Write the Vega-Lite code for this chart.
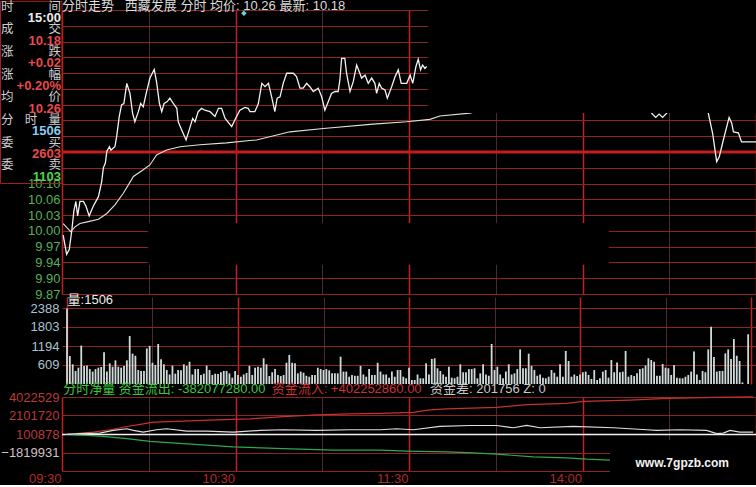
{
"$schema": "https://vega.github.io/schema/vega-lite/v6.json",
"background": "#000000",
"padding": {"left": 0, "top": 0, "right": 0, "bottom": 0},
"config": {
 "view": {"stroke": null},
 "axis": {"domain": false, "ticks": false, "labelFont": "Liberation Sans", "labelFontSize": 13, "labelFlush": false, "labelOverlap": false}
},
"datasets": {
 "price": [
  {"seg":"a","t":0.4,"p":9.99},{"seg":"a","t":1.6,"p":9.95},{"seg":"a","t":2.5,"p":9.96},{"seg":"a","t":3.4,"p":10.0},{"seg":"a","t":4.1,"p":10.04},{"seg":"a","t":4.8,"p":10.06},{"seg":"a","t":5.4,"p":10.03},{"seg":"a","t":6.2,"p":10.06},{"seg":"a","t":7.4,"p":10.06},{"seg":"a","t":8.3,"p":10.05},{"seg":"a","t":9.4,"p":10.03},{"seg":"a","t":10.8,"p":10.05},{"seg":"a","t":12.6,"p":10.07},{"seg":"a","t":13.7,"p":10.1},{"seg":"a","t":14.3,"p":10.13},{"seg":"a","t":15.0,"p":10.14},{"seg":"a","t":15.5,"p":10.164},{"seg":"a","t":16.4,"p":10.174},{"seg":"a","t":16.9,"p":10.167},{"seg":"a","t":18.3,"p":10.174},{"seg":"a","t":18.9,"p":10.195},{"seg":"a","t":19.8,"p":10.237},{"seg":"a","t":20.6,"p":10.261},{"seg":"a","t":21.4,"p":10.264},{"seg":"a","t":22.4,"p":10.306},{"seg":"a","t":23.5,"p":10.285},{"seg":"a","t":24.4,"p":10.244},{"seg":"a","t":25.2,"p":10.226},{"seg":"a","t":26.4,"p":10.247},{"seg":"a","t":27.2,"p":10.264},{"seg":"a","t":28.1,"p":10.257},{"seg":"a","t":29.0,"p":10.282},{"seg":"a","t":30.4,"p":10.317},{"seg":"a","t":31.9,"p":10.335},{"seg":"a","t":32.7,"p":10.309},{"seg":"a","t":33.7,"p":10.264},{"seg":"a","t":34.5,"p":10.247},{"seg":"a","t":35.3,"p":10.264},{"seg":"a","t":36.4,"p":10.268},{"seg":"a","t":37.3,"p":10.275},{"seg":"a","t":38.5,"p":10.264},{"seg":"a","t":39.7,"p":10.254},{"seg":"a","t":40.2,"p":10.226},{"seg":"a","t":41.4,"p":10.209},{"seg":"a","t":42.9,"p":10.188},{"seg":"a","t":44.0,"p":10.209},{"seg":"a","t":45.2,"p":10.233},{"seg":"a","t":46.0,"p":10.226},{"seg":"a","t":47.1,"p":10.247},{"seg":"a","t":48.3,"p":10.254},{"seg":"a","t":49.4,"p":10.25},{"seg":"a","t":51.2,"p":10.247},{"seg":"a","t":52.9,"p":10.237},{"seg":"a","t":54.1,"p":10.254},{"seg":"a","t":55.2,"p":10.254},{"seg":"a","t":56.4,"p":10.233},{"seg":"a","t":58.7,"p":10.216},{"seg":"a","t":59.8,"p":10.23},{"seg":"a","t":61.5,"p":10.25},{"seg":"a","t":63.3,"p":10.256},{"seg":"a","t":64.4,"p":10.254},{"seg":"a","t":65.0,"p":10.247},{"seg":"a","t":66.7,"p":10.247},{"seg":"a","t":67.9,"p":10.264},{"seg":"a","t":69.1,"p":10.306},{"seg":"a","t":70.2,"p":10.299},{"seg":"a","t":71.4,"p":10.306},{"seg":"a","t":72.5,"p":10.278},{"seg":"a","t":73.6,"p":10.247},{"seg":"a","t":74.4,"p":10.275},{"seg":"a","t":75.4,"p":10.278},{"seg":"a","t":76.5,"p":10.306},{"seg":"a","t":77.7,"p":10.327},{"seg":"a","t":80.0,"p":10.327},{"seg":"a","t":81.1,"p":10.32},{"seg":"a","t":82.3,"p":10.296},{"seg":"a","t":83.4,"p":10.296},{"seg":"a","t":84.6,"p":10.306},{"seg":"a","t":85.7,"p":10.299},{"seg":"a","t":86.9,"p":10.289},{"seg":"a","t":88.6,"p":10.296},{"seg":"a","t":89.8,"p":10.278},{"seg":"a","t":90.9,"p":10.25},{"seg":"a","t":92.1,"p":10.268},{"seg":"a","t":93.2,"p":10.285},{"seg":"a","t":94.4,"p":10.289},{"seg":"a","t":95.5,"p":10.289},{"seg":"a","t":96.1,"p":10.313},{"seg":"a","t":96.7,"p":10.358},{"seg":"a","t":97.8,"p":10.358},{"seg":"a","t":98.4,"p":10.327},{"seg":"a","t":99.6,"p":10.289},{"seg":"a","t":100.7,"p":10.309},{"seg":"a","t":101.9,"p":10.344},{"seg":"a","t":102.8,"p":10.33},{"seg":"a","t":103.6,"p":10.317},{"seg":"a","t":104.8,"p":10.323},{"seg":"a","t":105.9,"p":10.306},{"seg":"a","t":107.1,"p":10.317},{"seg":"a","t":108.2,"p":10.306},{"seg":"a","t":108.8,"p":10.285},{"seg":"a","t":109.7,"p":10.306},{"seg":"a","t":110.5,"p":10.296},{"seg":"a","t":111.7,"p":10.292},{"seg":"a","t":112.5,"p":10.275},{"seg":"a","t":114.0,"p":10.299},{"seg":"a","t":115.2,"p":10.32},{"seg":"a","t":116.3,"p":10.334},{"seg":"a","t":117.3,"p":10.306},{"seg":"a","t":119.2,"p":10.306},{"seg":"a","t":120.4,"p":10.323},{"seg":"a","t":121.3,"p":10.306},{"seg":"a","t":122.4,"p":10.341},{"seg":"a","t":123.2,"p":10.356},{"seg":"a","t":124.0,"p":10.334},{"seg":"a","t":124.7,"p":10.344},{"seg":"a","t":125.5,"p":10.337},{"seg":"a","t":126.1,"p":10.341},
  {"seg":"b","t":203.3,"p":10.26},{"seg":"b","t":203.9,"p":10.244},{"seg":"b","t":205.3,"p":10.235},{"seg":"b","t":206.5,"p":10.242},{"seg":"b","t":207.7,"p":10.235},{"seg":"b","t":209.1,"p":10.244},{"seg":"b","t":209.6,"p":10.26},
  {"seg":"c","t":223.0,"p":10.26},{"seg":"c","t":223.5,"p":10.244},{"seg":"c","t":225.0,"p":10.202},{"seg":"c","t":226.4,"p":10.143},{"seg":"c","t":227.3,"p":10.153},{"seg":"c","t":228.7,"p":10.188},{"seg":"c","t":230.7,"p":10.235},{"seg":"c","t":231.6,"p":10.223},{"seg":"c","t":232.2,"p":10.205},{"seg":"c","t":233.9,"p":10.203},{"seg":"c","t":235.0,"p":10.184},{"seg":"c","t":240.0,"p":10.184}
 ],
 "avg": [
  {"t":0.4,"p":10.014},{"t":3.0,"p":9.997},{"t":4.5,"p":10.007},{"t":6.2,"p":10.014},{"t":9.1,"p":10.018},{"t":12.6,"p":10.023},{"t":15.5,"p":10.035},{"t":18.3,"p":10.053},{"t":21.2,"p":10.077},{"t":22.9,"p":10.094},{"t":24.7,"p":10.112},{"t":28.1,"p":10.126},{"t":30.4,"p":10.136},{"t":32.7,"p":10.157},{"t":36.2,"p":10.167},{"t":40.8,"p":10.174},{"t":47.7,"p":10.178},{"t":56.9,"p":10.182},{"t":65.0,"p":10.187},{"t":67.3,"p":10.188},{"t":78.8,"p":10.205},{"t":90.4,"p":10.212},{"t":107.6,"p":10.221},{"t":119.2,"p":10.226},{"t":127.2,"p":10.231},{"t":130.7,"p":10.238},{"t":141.1,"p":10.244},{"t":146.0,"p":10.252}
 ],
 "info": [
  {"row":0,"col":0,"txt":"时","kind":"label"},{"row":0,"col":1,"txt":"间","kind":"label"},
  {"row":1,"col":1,"txt":"15:00","kind":"time"},
  {"row":2,"col":0,"txt":"成","kind":"label"},{"row":2,"col":1,"txt":"交","kind":"label"},
  {"row":3,"col":1,"txt":"10.18","kind":"red"},
  {"row":4,"col":0,"txt":"涨","kind":"label"},{"row":4,"col":1,"txt":"跌","kind":"label"},
  {"row":5,"col":1,"txt":"+0.02","kind":"red"},
  {"row":6,"col":0,"txt":"涨","kind":"label"},{"row":6,"col":1,"txt":"幅","kind":"label"},
  {"row":7,"col":1,"txt":"+0.20%","kind":"red"},
  {"row":8,"col":0,"txt":"均","kind":"label"},{"row":8,"col":1,"txt":"价","kind":"label"},
  {"row":9,"col":1,"txt":"10.26","kind":"red"},
  {"row":10,"col":0,"txt":"分","kind":"label"},{"row":10,"col":0.5,"txt":"时","kind":"label"},{"row":10,"col":1,"txt":"量","kind":"label"},
  {"row":11,"col":1,"txt":"1506","kind":"blue"},
  {"row":12,"col":0,"txt":"委","kind":"label"},{"row":12,"col":1,"txt":"买","kind":"label"},
  {"row":13,"col":1,"txt":"2603","kind":"red"},
  {"row":14,"col":0,"txt":"委","kind":"label"},{"row":14,"col":1,"txt":"卖","kind":"label"},
  {"row":15,"col":1,"txt":"1103","kind":"green"}
 ],
 "vol": [
  {"t":0,"v":2380},{"t":1,"v":880},{"t":2,"v":620},{"t":3,"v":410},{"t":4,"v":515},{"t":5,"v":1210},{"t":6,"v":570},{"t":7,"v":580},{"t":8,"v":470},{"t":9,"v":390},
  {"t":10,"v":470},{"t":11,"v":515},{"t":12,"v":535},{"t":13,"v":1000},{"t":14,"v":390},{"t":15,"v":650},{"t":16,"v":545},{"t":17,"v":745},{"t":18,"v":545},{"t":19,"v":515},
  {"t":20,"v":570},{"t":21,"v":745},{"t":22,"v":1510},{"t":23,"v":955},{"t":24,"v":890},{"t":25,"v":440},{"t":26,"v":410},{"t":27,"v":410},{"t":28,"v":1120},{"t":29,"v":1200},
  {"t":30,"v":670},{"t":31,"v":600},{"t":32,"v":1260},{"t":33,"v":780},{"t":34,"v":620},{"t":35,"v":440},{"t":36,"v":300},{"t":37,"v":580},{"t":38,"v":325},{"t":39,"v":440},
  {"t":40,"v":430},{"t":41,"v":620},{"t":42,"v":570},{"t":43,"v":700},{"t":44,"v":300},{"t":45,"v":470},{"t":46,"v":470},{"t":47,"v":285},{"t":48,"v":325},{"t":49,"v":580},
  {"t":50,"v":440},{"t":51,"v":285},{"t":52,"v":325},{"t":53,"v":315},{"t":54,"v":370},{"t":55,"v":410},{"t":56,"v":410},{"t":57,"v":335},{"t":58,"v":200},{"t":59,"v":410},
  {"t":60,"v":285},{"t":61,"v":230},{"t":62,"v":300},{"t":63,"v":345},{"t":64,"v":570},{"t":65,"v":285},{"t":66,"v":515},{"t":67,"v":545},{"t":68,"v":515},{"t":69,"v":810},
  {"t":70,"v":620},{"t":71,"v":250},{"t":72,"v":370},{"t":73,"v":470},{"t":74,"v":285},{"t":75,"v":250},{"t":76,"v":285},{"t":77,"v":670},{"t":78,"v":915},{"t":79,"v":670},
  {"t":80,"v":650},{"t":81,"v":335},{"t":82,"v":390},{"t":83,"v":355},{"t":84,"v":260},{"t":85,"v":230},{"t":86,"v":285},{"t":87,"v":285},{"t":88,"v":515},{"t":89,"v":470},
  {"t":90,"v":440},{"t":91,"v":470},{"t":92,"v":430},{"t":93,"v":335},{"t":94,"v":335},{"t":95,"v":335},{"t":96,"v":860},{"t":97,"v":390},{"t":98,"v":390},{"t":99,"v":230},
  {"t":100,"v":285},{"t":101,"v":260},{"t":102,"v":260},{"t":103,"v":570},{"t":104,"v":300},{"t":105,"v":230},{"t":106,"v":470},{"t":107,"v":285},{"t":108,"v":285},{"t":109,"v":670},
  {"t":110,"v":390},{"t":111,"v":300},{"t":112,"v":300},{"t":113,"v":200},{"t":114,"v":390},{"t":115,"v":230},{"t":116,"v":440},{"t":117,"v":440},{"t":118,"v":230},{"t":119,"v":180},
  {"t":120,"v":515},{"t":121,"v":125},{"t":122,"v":125},{"t":123,"v":300},{"t":124,"v":180},{"t":125,"v":180},{"t":126,"v":650},{"t":127,"v":300},{"t":128,"v":790},{"t":129,"v":810},
  {"t":130,"v":495},{"t":131,"v":410},{"t":132,"v":300},{"t":133,"v":230},{"t":134,"v":545},{"t":135,"v":200},{"t":136,"v":180},{"t":137,"v":230},{"t":138,"v":620},{"t":139,"v":370},
  {"t":140,"v":370},{"t":141,"v":470},{"t":142,"v":470},{"t":143,"v":495},{"t":144,"v":180},{"t":145,"v":335},{"t":146,"v":620},{"t":147,"v":300},{"t":148,"v":260},{"t":149,"v":1260},
  {"t":150,"v":440},{"t":151,"v":545},{"t":152,"v":300},{"t":153,"v":180},{"t":154,"v":390},{"t":155,"v":620},{"t":156,"v":300},{"t":157,"v":335},{"t":158,"v":470},{"t":159,"v":1090},
  {"t":160,"v":495},{"t":161,"v":495},{"t":162,"v":955},{"t":163,"v":570},{"t":164,"v":440},{"t":165,"v":260},{"t":166,"v":300},{"t":167,"v":200},{"t":168,"v":180},{"t":169,"v":230},
  {"t":170,"v":440},{"t":171,"v":355},{"t":172,"v":230},{"t":173,"v":620},{"t":174,"v":230},{"t":175,"v":1040},{"t":176,"v":725},{"t":177,"v":230},{"t":178,"v":300},{"t":179,"v":250},
  {"t":180,"v":300},{"t":181,"v":370},{"t":182,"v":390},{"t":183,"v":285},{"t":184,"v":160},{"t":185,"v":440},{"t":186,"v":125},{"t":187,"v":180},{"t":188,"v":390},{"t":189,"v":440},
  {"t":190,"v":200},{"t":191,"v":755},{"t":192,"v":370},{"t":193,"v":680},{"t":194,"v":370},{"t":195,"v":390},{"t":196,"v":1040},{"t":197,"v":230},{"t":198,"v":285},{"t":199,"v":250},
  {"t":200,"v":335},{"t":201,"v":470},{"t":202,"v":495},{"t":203,"v":580},{"t":204,"v":810},{"t":205,"v":755},{"t":206,"v":700},{"t":207,"v":260},{"t":208,"v":260},{"t":209,"v":630},
  {"t":210,"v":515},{"t":211,"v":495},{"t":212,"v":285},{"t":213,"v":600},{"t":214,"v":200},{"t":215,"v":180},{"t":216,"v":180},{"t":217,"v":230},{"t":218,"v":285},{"t":219,"v":390},
  {"t":220,"v":1020},{"t":221,"v":300},{"t":222,"v":125},{"t":223,"v":410},{"t":224,"v":370},{"t":225,"v":1090},{"t":226,"v":1805},{"t":227,"v":850},{"t":228,"v":390},{"t":229,"v":410},
  {"t":230,"v":410},{"t":231,"v":965},{"t":232,"v":1090},{"t":233,"v":790},{"t":234,"v":1420},{"t":235,"v":890},{"t":236,"v":725},{"t":237,"v":50},{"t":239,"v":1565}
 ],
 "flow": [
  {"s":"in","t":1.6,"v":100878},{"s":"in","t":10.8,"v":339618},{"s":"in","t":16.6,"v":588738},{"s":"in","t":22.4,"v":931278},{"s":"in","t":28.1,"v":1211538},{"s":"in","t":31.6,"v":1377618},{"s":"in","t":41.9,"v":1481418},{"s":"in","t":53.5,"v":1626738},{"s":"in","t":65.0,"v":1730538},{"s":"in","t":76.5,"v":1969278},{"s":"in","t":88.1,"v":2145738},{"s":"in","t":99.6,"v":2249538},{"s":"in","t":110.0,"v":2311818},{"s":"in","t":121.5,"v":2415618},{"s":"in","t":127.2,"v":2664738},{"s":"in","t":133.0,"v":2768538},{"s":"in","t":150.3,"v":2934618},{"s":"in","t":160.7,"v":3214878},{"s":"in","t":174.5,"v":3349818},{"s":"in","t":180.3,"v":3557418},{"s":"in","t":196.4,"v":3702738},{"s":"in","t":209.1,"v":3880338},{"s":"in","t":225.2,"v":3985278},{"s":"in","t":239.0,"v":4040000},
  {"s":"out","t":1.6,"v":100878},{"s":"out","t":13.1,"v":-75582},{"s":"out","t":22.4,"v":-345462},{"s":"out","t":30.4,"v":-625722},{"s":"out","t":41.9,"v":-864462},{"s":"out","t":59.2,"v":-1217382},{"s":"out","t":76.5,"v":-1383462},{"s":"out","t":93.8,"v":-1559922},{"s":"out","t":110.0,"v":-1559922},{"s":"out","t":119.2,"v":-1663722},{"s":"out","t":133.0,"v":-1736382},{"s":"out","t":142.2,"v":-1840182},{"s":"out","t":150.3,"v":-1975122},{"s":"out","t":163.0,"v":-2255382},{"s":"out","t":174.5,"v":-2359182},{"s":"out","t":181.4,"v":-2494122},{"s":"out","t":189.5,"v":-2597922},{"s":"out","t":195.0,"v":-2650000},
  {"s":"net","t":1.6,"v":100878},{"s":"net","t":6.2,"v":173538},{"s":"net","t":13.1,"v":235818},{"s":"net","t":17.7,"v":516078},{"s":"net","t":22.4,"v":692538},{"s":"net","t":24.7,"v":516078},{"s":"net","t":28.1,"v":339618},{"s":"net","t":32.7,"v":588738},{"s":"net","t":36.2,"v":692538},{"s":"net","t":43.1,"v":443418},{"s":"net","t":50.0,"v":443418},{"s":"net","t":59.2,"v":339618},{"s":"net","t":68.5,"v":516078},{"s":"net","t":76.5,"v":588738},{"s":"net","t":88.1,"v":516078},{"s":"net","t":99.6,"v":588738},{"s":"net","t":110.0,"v":588738},{"s":"net","t":115.7,"v":692538},{"s":"net","t":121.5,"v":588738},{"s":"net","t":130.7,"v":931278},{"s":"net","t":141.1,"v":1035078},{"s":"net","t":150.3,"v":1035078},{"s":"net","t":156.1,"v":796338},{"s":"net","t":160.7,"v":1035078},{"s":"net","t":165.3,"v":796338},{"s":"net","t":176.8,"v":931278},{"s":"net","t":190.6,"v":796338},{"s":"net","t":202.2,"v":588738},{"s":"net","t":205.6,"v":516078},{"s":"net","t":213.7,"v":588738},{"s":"net","t":222.9,"v":516078},{"s":"net","t":226.4,"v":173538},{"s":"net","t":228.7,"v":235818},{"s":"net","t":231.0,"v":516078},{"s":"net","t":234.4,"v":339618},{"s":"net","t":239.0,"v":339618}
 ]
},
"spacing": 3,
"bounds": "flush",
"resolve": {"scale": {"color": "independent"}},
"vconcat": [
 {
  "width": 694, "height": 284,
  "title": {"text": "分时走势\u00a0\u00a0\u00a0西藏发展 分时 均价: 10.26 最新: 10.18", "anchor": "start", "frame": "group", "font": "Liberation Sans, Noto Sans CJK SC", "fontSize": 13, "fontWeight": "normal", "color": "#dcdcdc", "offset": -12.5},
  "layer": [
   {"layer": [
     {"data": {"values": [{}]}, "mark": {"type": "rule", "color": "#c41c1c", "strokeWidth": 3}, "encoding": {"y": {"datum": 10.163, "type": "quantitative"}}},
     {"data": {"name": "price"}, "mark": {"type": "line", "color": "#f2f2f2", "strokeWidth": 1.3},
      "encoding": {
       "x": {"field": "t", "type": "quantitative", "scale": {"domain": [0, 240], "nice": false, "zero": false},
             "axis": {"values": [0,30,60,90,120,150,180,210,240], "tickCount": 100, "labels": false, "grid": true, "title": null,
                      "gridColor": {"condition": {"test": "datum.value % 60 == 0", "value": "#c42020"}, "value": "#4a2c2c"},
                      "gridWidth": {"condition": {"test": "datum.value % 60 == 0", "value": 1.5}, "value": 1}}},
       "y": {"field": "p", "type": "quantitative", "scale": {"domain": [9.8673, 10.4587], "nice": false, "zero": false},
             "axis": {"values": [10.4587,10.4259,10.393,10.3602,10.3273,10.2944,10.2616,10.2287,10.1959,10.163,10.1301,10.0973,10.0644,10.0316,9.9987,9.9658,9.933,9.9001,9.8673],
                      "tickCount": 100, "title": null, "grid": true, "gridColor": "#8c2525", "labelColor": "#56b056", "labelPadding": 2, "minExtent": 62, "maxExtent": 62,
                      "labelExpr": "datum.value > 10.11 ? '' : (abs(datum.value - 9.933) < 0.002 ? '9.94' : format(datum.value, '.2f'))"}},
       "detail": {"field": "seg"}}},
     {"data": {"name": "avg"}, "mark": {"type": "line", "color": "#e2e2d6", "strokeWidth": 1.1},
      "encoding": {"x": {"field": "t", "type": "quantitative"}, "y": {"field": "p", "type": "quantitative"}}},
     {"data": {"values": [{}]}, "mark": {"type": "rect", "color": "#000000"},
      "encoding": {"x": {"datum": 126.6, "type": "quantitative"}, "x2": {"datum": 240.5}, "y": {"datum": 10.244, "type": "quantitative"}, "y2": {"datum": 10.462}}},
     {"data": {"values": [{}]}, "mark": {"type": "rect", "color": "#000000"},
      "encoding": {"x": {"datum": 29.7, "type": "quantitative"}, "x2": {"datum": 189.1}, "y": {"datum": 9.928, "type": "quantitative"}, "y2": {"datum": 10.015}}},
     {"data": {"values": [{}]}, "mark": {"type": "point", "shape": "diamond", "filled": true, "size": 30, "color": "#5fd8e8", "opacity": 1},
      "encoding": {"x": {"datum": 62.9, "type": "quantitative"}, "y": {"datum": 10.452, "type": "quantitative"}}}
   ]},
   {"layer": [
     {"data": {"values": [{}]}, "mark": {"type": "rect", "fill": "transparent", "stroke": "#a02020", "strokeWidth": 1},
      "encoding": {"x": {"datum": -0.0083, "type": "quantitative", "scale": {"domain": [1.01667, 12.5833], "nice": false, "zero": false}, "axis": null},
                   "x2": {"datum": 1.01667},
                   "y": {"datum": -0.45, "type": "quantitative", "scale": {"domain": [0.3086, 25.353], "reverse": true, "nice": false, "zero": false}, "axis": null},
                   "y2": {"datum": 15.61}}},
     {"data": {"name": "info"},
      "encoding": {
       "x": {"field": "col", "type": "quantitative"},
       "y": {"field": "row", "type": "quantitative"},
       "text": {"field": "txt"},
       "color": {"field": "kind", "type": "nominal", "scale": {"domain": ["label","time","red","blue","green"], "range": ["#cfcfcf","#ececec","#e84a4a","#8ccaf0","#4cd44c"]}, "legend": null}
      },
      "layer": [
       {"transform": [{"filter": "datum.col == 0"}], "mark": {"type": "text", "align": "left", "baseline": "middle", "font": "Noto Sans CJK SC", "fontSize": 12.5}},
       {"transform": [{"filter": "datum.col == 0.5"}], "mark": {"type": "text", "align": "center", "baseline": "middle", "font": "Noto Sans CJK SC", "fontSize": 12.5}},
       {"transform": [{"filter": "datum.col == 1 && datum.kind == 'label'"}], "mark": {"type": "text", "align": "right", "baseline": "middle", "font": "Noto Sans CJK SC", "fontSize": 12.5}},
       {"transform": [{"filter": "datum.col == 1 && datum.kind != 'label'"}], "mark": {"type": "text", "align": "right", "baseline": "middle", "font": "Liberation Sans", "fontSize": 13, "fontWeight": "bold"}}
      ]}
   ]}
  ],
  "resolve": {"scale": {"x": "independent", "y": "independent"}}
 },
 {
  "spacing": 13,
  "bounds": "flush",
  "resolve": {"scale": {"color": "independent"}},
  "vconcat": [
   {
    "width": 694, "height": 87,
    "layer": [
     {"data": {"name": "vol"}, "mark": {"type": "bar", "orient": "vertical", "size": 1.8, "color": "#d0dada"},
      "encoding": {
       "x": {"field": "t", "type": "quantitative", "scale": {"domain": [0, 240], "nice": false, "zero": false},
             "axis": {"values": [0,30,60,90,120,150,180,210,240], "tickCount": 100, "labels": false, "grid": true, "title": null,
                      "gridColor": {"condition": {"test": "datum.value % 60 == 0", "value": "#c42020"}, "value": "#4a2c2c"},
                      "gridWidth": {"condition": {"test": "datum.value % 60 == 0", "value": 1.5}, "value": 1}}},
       "y": {"field": "v", "type": "quantitative", "scale": {"domain": [0, 2740], "nice": false},
             "axis": {"values": [609, 1194, 1803, 2388], "tickCount": 100, "format": "d", "title": null, "grid": true, "gridColor": "#8c2525", "labelColor": "#a9c3d3", "labelPadding": 3, "minExtent": 62, "maxExtent": 62}}}},
     {"data": {"values": [{}]}, "mark": {"type": "text", "text": "量:1506", "align": "left", "baseline": "middle", "font": "Liberation Sans, Noto Sans CJK SC", "fontSize": 13, "color": "#ececec"},
      "encoding": {"x": {"datum": 0.2, "type": "quantitative"}, "y": {"datum": 2640, "type": "quantitative"}}}
    ]
   },
   {
    "width": 694, "height": 74,
    "layer": [
     {"data": {"values": [{}]}, "mark": {"type": "rule", "color": "#f2f2f2", "strokeWidth": 1.5}, "encoding": {"y": {"datum": 100878, "type": "quantitative"}}},
     {"data": {"name": "flow"}, "mark": {"type": "line", "strokeWidth": 1.2},
      "encoding": {
       "x": {"field": "t", "type": "quantitative", "scale": {"domain": [0, 240], "nice": false, "zero": false},
             "axis": {"values": [0,30,60,90,120,150,180,210,240], "tickCount": 100, "grid": true, "title": null,
                      "gridColor": {"condition": {"test": "datum.value % 60 == 0", "value": "#c42020"}, "value": "#4a2c2c"},
                      "gridWidth": {"condition": {"test": "datum.value % 60 == 0", "value": 1.5}, "value": 1},
                      "labelExpr": "datum.value == 0 ? '09:30' : datum.value == 60 ? '10:30' : datum.value == 120 ? '11:30' : datum.value == 180 ? '14:00' : ''",
                      "labelAlign": "right", "labelColor": "#b02a2a", "labelPadding": 1, "labelOffset": -1}},
       "y": {"field": "v", "type": "quantitative", "scale": {"domain": [-3740740, 4022529], "nice": false, "zero": false},
             "axis": {"values": [4022529, 2101720, 100878, -1819931, -3740740], "tickCount": 100, "title": null, "grid": true,
                      "gridColor": {"condition": {"test": "datum.value == 100878", "value": "transparent"}, "value": "#8c2525"},
                      "labelColor": {"condition": {"test": "datum.value < 0", "value": "#d2c2c2"}, "value": "#b83a3a"},
                      "labelExpr": "datum.value < -3000000 ? '' : format(datum.value, 'd')",
                      "labelPadding": 3, "minExtent": 62, "maxExtent": 62}},
       "color": {"field": "s", "type": "nominal", "scale": {"domain": ["in","out","net"], "range": ["#c8302c","#2ea84e","#dedede"]}, "legend": null}}},
     {"data": {"values": [{}]}, "mark": {"type": "rect", "color": "#000000"},
      "encoding": {"x": {"datum": 189.5, "type": "quantitative"}, "x2": {"datum": 241}, "y": {"datum": -488561, "type": "quantitative"}, "y2": {"datum": -4900000}}},
     {"data": {"values": [{}]}, "mark": {"type": "text", "text": "www.7gpzb.com", "align": "center", "baseline": "middle", "font": "Liberation Sans", "fontSize": 12, "fontWeight": "bold", "color": "#f4f4f4"},
      "encoding": {"x": {"datum": 214.5, "type": "quantitative"}, "y": {"datum": -2901468, "type": "quantitative"}}},
     {"data": {"values": [{}]}, "mark": {"type": "text", "text": "分时净量 资金流出: -382077280.00", "align": "left", "baseline": "middle", "font": "Liberation Sans, Noto Sans CJK SC", "fontSize": 13, "color": "#3cc83c"},
      "encoding": {"x": {"datum": 0.4, "type": "quantitative"}, "y": {"datum": 4860000, "type": "quantitative"}}},
     {"data": {"values": [{}]}, "mark": {"type": "text", "text": "资金流入: +402252860.00", "align": "left", "baseline": "middle", "font": "Liberation Sans, Noto Sans CJK SC", "fontSize": 13, "color": "#cc3030"},
      "encoding": {"x": {"datum": 72.5, "type": "quantitative"}, "y": {"datum": 4860000, "type": "quantitative"}}},
     {"data": {"values": [{}]}, "mark": {"type": "text", "text": "资金差: 201756 Z: 0", "align": "left", "baseline": "middle", "font": "Liberation Sans, Noto Sans CJK SC", "fontSize": 13, "color": "#c8c8c8"},
      "encoding": {"x": {"datum": 127.3, "type": "quantitative"}, "y": {"datum": 4860000, "type": "quantitative"}}}
    ]
   }
  ]
 }
]
}
